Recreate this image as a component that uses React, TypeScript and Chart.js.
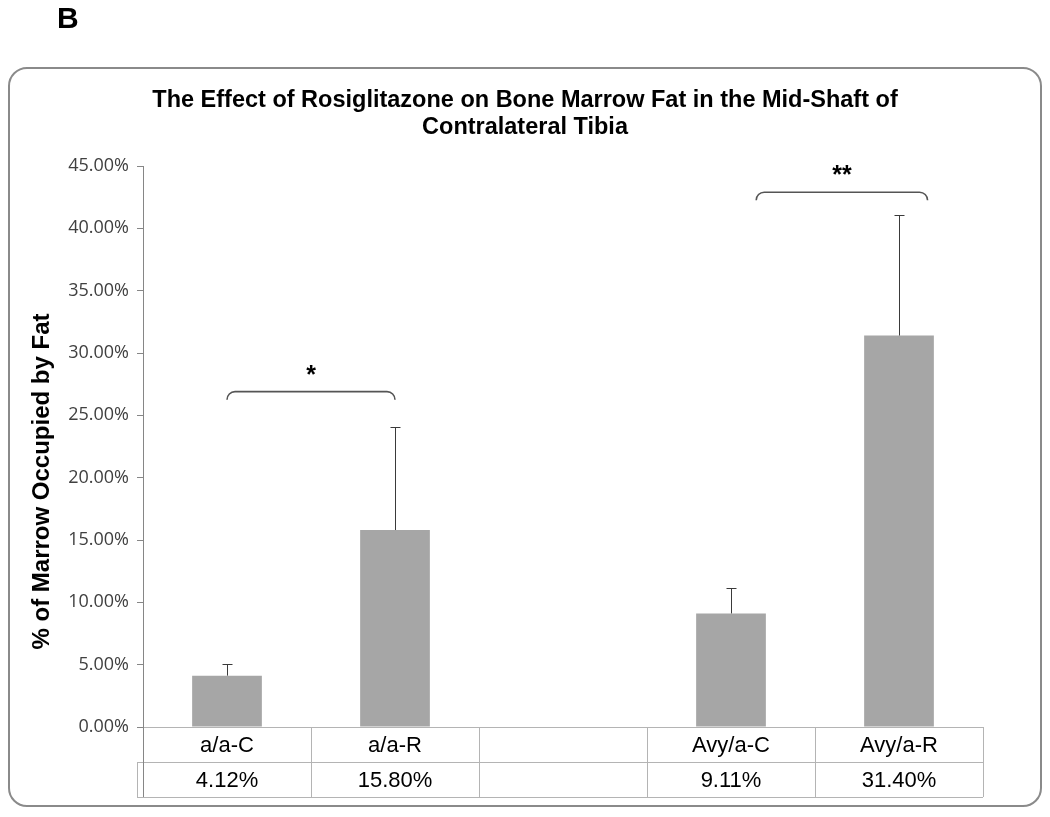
import React, { useEffect, useRef } from "react";
import { Chart, registerables } from "chart.js";

Chart.register(...registerables);

// ---- data ----
const categories: string[] = ["a/a-C", "a/a-R", "", "Avy/a-C", "Avy/a-R"];
const fatPercent: (number | null)[] = [4.12, 15.8, null, 9.11, 31.4];
const errorPlus: (number | null)[] = [0.95, 8.3, null, 2.0, 9.7];
const yMin = 0;
const yMax = 45;
const yStep = 5;
const titleLines: string[] = [
  "The Effect of Rosiglitazone on Bone Marrow Fat in the Mid-Shaft of",
  "Contralateral Tibia",
];
const yAxisTitle = "% of Marrow Occupied by Fat";
const panelLabel = "B";
// significance brackets: category positions (from/to) and value height
const bracketFrom: number[] = [0, 3.15];
const bracketTo: number[] = [1, 4.17];
const bracketLevel: number[] = [26.9, 42.9];
const bracketLabel: string[] = ["*", "**"];

const fmtPct = (v: number) => v.toFixed(2) + "%";
const SANS = "'Liberation Sans', Arial, sans-serif";

const decorPlugin = {
  id: "decor",
  beforeDraw(chart: any) {
    const ctx = chart.ctx;
    ctx.save();
    ctx.fillStyle = "#ffffff";
    ctx.fillRect(0, 0, chart.width, chart.height);
    // rounded frame
    const x0 = 9, y0 = 68, x1 = 1041, y1 = 806, r = 18;
    ctx.beginPath();
    ctx.moveTo(x0 + r, y0);
    ctx.lineTo(x1 - r, y0);
    ctx.arcTo(x1, y0, x1, y0 + r, r);
    ctx.lineTo(x1, y1 - r);
    ctx.arcTo(x1, y1, x1 - r, y1, r);
    ctx.lineTo(x0 + r, y1);
    ctx.arcTo(x0, y1, x0, y1 - r, r);
    ctx.lineTo(x0, y0 + r);
    ctx.arcTo(x0, y0, x0 + r, y0, r);
    ctx.closePath();
    ctx.strokeStyle = "#8a8a8a";
    ctx.lineWidth = 2;
    ctx.stroke();
    // panel label
    ctx.fillStyle = "#000";
    ctx.font = "bold 30px " + SANS;
    ctx.textAlign = "left";
    ctx.textBaseline = "alphabetic";
    ctx.fillText(panelLabel, 57, 28);
    // chart title
    ctx.font = "bold 23.5px " + SANS;
    ctx.textAlign = "center";
    titleLines.forEach((t, i) => {
      ctx.fillText(t, 525, 107 + i * 27);
    });
    ctx.restore();
  },
  afterDatasetsDraw(chart: any) {
    const ctx = chart.ctx;
    const xs = chart.scales.x;
    const ys = chart.scales.y;
    const area = chart.chartArea;
    ctx.save();
    // error bars (upper only)
    ctx.strokeStyle = "#3a3a3a";
    ctx.lineWidth = 1;
    fatPercent.forEach((v, i) => {
      const e = errorPlus[i];
      if (v == null || e == null) return;
      const x = Math.round(xs.getPixelForValue(i)) + 0.5;
      const yTop = ys.getPixelForValue(v);
      const yEnd = Math.round(ys.getPixelForValue(v + e)) + 0.5;
      ctx.beginPath();
      ctx.moveTo(x, yTop);
      ctx.lineTo(x, yEnd);
      ctx.moveTo(x - 5, yEnd);
      ctx.lineTo(x + 5, yEnd);
      ctx.stroke();
    });

    // brackets
    const colW = (area.right - area.left) / categories.length;
    bracketLevel.forEach((lvl, k) => {
      const xa = xs.getPixelForValue(0) + bracketFrom[k] * colW;
      const xb = xs.getPixelForValue(0) + bracketTo[k] * colW;
      const y = ys.getPixelForValue(lvl);
      const rr = 8;
      ctx.beginPath();
      ctx.moveTo(xa, y + rr);
      ctx.arcTo(xa, y, xa + rr, y, rr);
      ctx.lineTo(xb - rr, y);
      ctx.arcTo(xb, y, xb, y + rr, rr);
      ctx.strokeStyle = "#555";
      ctx.lineWidth = 1.6;
      ctx.stroke();
      ctx.fillStyle = "#000";
      ctx.font = "bold 25px " + SANS;
      ctx.textAlign = "center";
      ctx.textBaseline = "alphabetic";
      ctx.fillText(bracketLabel[k], (xa + xb) / 2, y - 9);
    });

    // data table
    const row1Top = area.bottom;
    const row1Bot = row1Top + 35;
    const row2Bot = row1Bot + 35;
    const outerLeft = area.left - 6;
    ctx.strokeStyle = "#b4b4b4";
    ctx.lineWidth = 1;
    ctx.beginPath();
    ctx.moveTo(area.left, Math.round(row1Top) + 0.5);
    ctx.lineTo(area.right, Math.round(row1Top) + 0.5);
    ctx.moveTo(outerLeft, row1Bot + 0.5);
    ctx.lineTo(area.right, row1Bot + 0.5);
    ctx.moveTo(outerLeft, row2Bot + 0.5);
    ctx.lineTo(area.right, row2Bot + 0.5);
    for (let i = 1; i <= categories.length; i++) {
      const x = Math.round(area.left + i * colW) + 0.5;
      ctx.moveTo(x, row1Top);
      ctx.lineTo(x, row2Bot);
    }
    ctx.moveTo(outerLeft + 0.5, row1Bot);
    ctx.lineTo(outerLeft + 0.5, row2Bot);
    ctx.stroke();
    ctx.strokeStyle = "#868686";
    ctx.beginPath();
    ctx.moveTo(Math.round(area.left) + 0.5, row1Top);
    ctx.lineTo(Math.round(area.left) + 0.5, row2Bot);
    ctx.stroke();

    ctx.fillStyle = "#000";
    ctx.font = "22px " + SANS;
    ctx.textAlign = "center";
    ctx.textBaseline = "middle";
    categories.forEach((c, i) => {
      const x = xs.getPixelForValue(i);
      if (c) ctx.fillText(c, x, (row1Top + row1Bot) / 2 + 1);
      const v = fatPercent[i];
      if (v != null) ctx.fillText(fmtPct(v), x, (row1Bot + row2Bot) / 2 + 1);
    });

    // y axis title (centered on plot + table, as in the original)
    ctx.save();
    ctx.translate(42, (area.top + row2Bot) / 2);
    ctx.rotate(-Math.PI / 2);
    ctx.font = "bold 24px " + SANS;
    ctx.textAlign = "center";
    ctx.textBaseline = "middle";
    ctx.fillStyle = "#000";
    ctx.fillText(yAxisTitle, 0, 0);
    ctx.restore();

    ctx.restore();
  },
};

export default function App() {
  const ref = useRef<HTMLCanvasElement>(null);
  useEffect(() => {
    if (!ref.current) return;
    const chart = new Chart(ref.current, {
      type: "bar",
      data: {
        labels: categories,
        datasets: [
          {
            data: fatPercent as any,
            backgroundColor: "#a6a6a6",
            borderWidth: 0,
            categoryPercentage: 1,
            barPercentage: 0.415,
          },
        ],
      },
      options: {
        responsive: false,
        animation: false,
        layout: { padding: { top: 166, left: 0, right: 67, bottom: 90 } },
        plugins: {
          legend: { display: false },
          tooltip: { enabled: false },
          title: { display: false },
        },
        scales: {
          x: { display: false, offset: true },
          y: {
            min: yMin,
            max: yMax,
            ticks: {
              stepSize: yStep,
              color: "#404040",
              padding: 8,
              font: { family: "'Open Sans', sans-serif", size: 18 },
              callback: (v: any) => fmtPct(Number(v)),
            },
            grid: { display: true, drawOnChartArea: false, drawTicks: true, tickLength: 6, color: "#868686" },
            border: { display: true, color: "#868686", width: 1 },
            afterFit: (scale: any) => {
              scale.width = 143;
            },
          },
        },
      },
      plugins: [decorPlugin],
    });
    return () => chart.destroy();
  }, []);
  return (
    <div style={{ position: "absolute", left: 0, top: 0, width: 1050, height: 817 }}>
      <canvas ref={ref} width={1050} height={817} style={{ display: "block" }} />
    </div>
  );
}
